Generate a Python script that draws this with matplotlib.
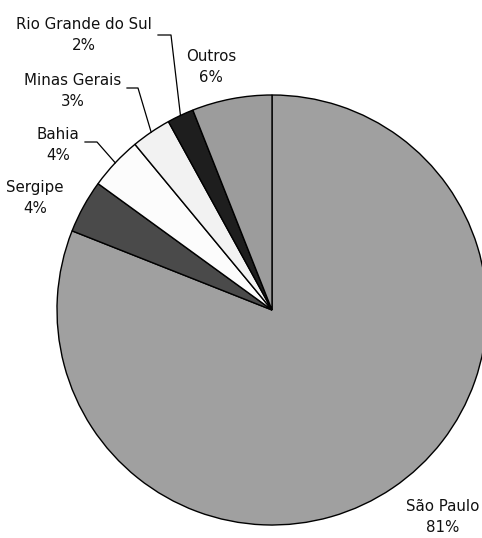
import numpy as np
import matplotlib.pyplot as plt

states = ['São Paulo', 'Sergipe', 'Bahia', 'Minas Gerais', 'Rio Grande do Sul', 'Outros']
shares = [81, 4, 4, 3, 2, 6]
colors = ['#a0a0a0', '#4a4a4a', '#fcfcfc', '#f2f2f2', '#1e1e1e', '#9c9c9c']

W, H = 482, 538
CX, CY, R = 272, 310, 215


def px(x, y):
    # pixel position -> pie data coordinates (unit radius)
    return (x - CX) / R, (CY - y) / R


fig = plt.figure(figsize=(W / 100, H / 100), dpi=100)
ax = fig.add_axes([0, 0, 1, 1])
wedges, _ = ax.pie(shares, colors=colors, startangle=90, counterclock=False,
                   radius=1, wedgeprops=dict(edgecolor='black', linewidth=1.0))
ax.set_xlim(-CX / R, (W - CX) / R)
ax.set_ylim(-(H - CY) / R, CY / R)
ax.set_aspect('equal')
ax.axis('off')

# label centre (pixels) and elbow of the leader line, if any
label_pos = {
    'São Paulo': ((443, 517), None),
    'Sergipe': ((35, 198), None),
    'Bahia': ((58, 145), (85, 97, 142)),
    'Minas Gerais': ((73, 91), (127, 138, 88)),
    'Rio Grande do Sul': ((84, 35), (158, 171, 35)),
    'Outros': ((211, 67), None),
}

for w, name, val in zip(wedges, states, shares):
    (lx, ly), lead = label_pos[name]
    x, y = px(lx, ly)
    ax.text(x, y, f'{name}\n{val}%', ha='center', va='center', fontsize=10.8,
            linespacing=1.5, color='#111111')
    if lead is not None:
        x0, x1, yl = lead
        mid = np.deg2rad((w.theta1 + w.theta2) / 2)
        ex, ey = np.cos(mid), np.sin(mid)
        a, b = px(x0, yl)
        c, _ = px(x1, yl)
        ax.plot([a, c, ex], [b, b, ey], color='black', linewidth=0.9)

fig.savefig('out.png', dpi=100)
